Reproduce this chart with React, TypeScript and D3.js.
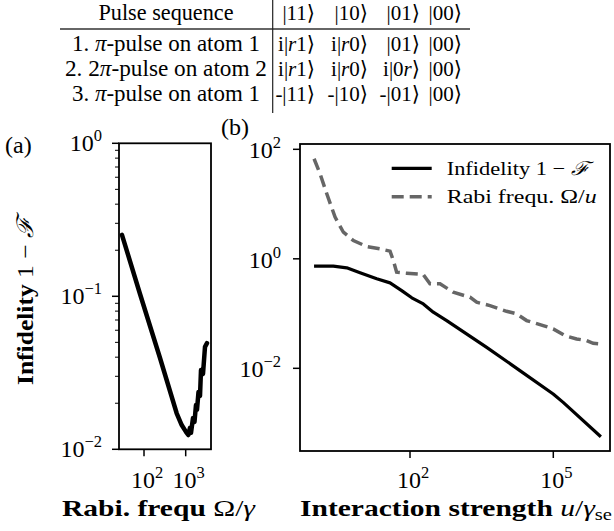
import React from "react";
import * as d3 from "d3";

// ---------- data ----------
const tableHeader = ["Pulse sequence", "|11⟩", "|10⟩", "|01⟩", "|00⟩"];
const rowLabels = ["1. π-pulse on atom 1", "2. 2π-pulse on atom 2", "3. π-pulse on atom 1"];
const rowStates = [
  ["i|r1⟩", "i|r0⟩", "|01⟩", "|00⟩"],
  ["i|r1⟩", "i|r0⟩", "i|0r⟩", "|00⟩"],
  ["-|11⟩", "-|10⟩", "-|01⟩", "|00⟩"],
];

// panel (a): infidelity vs Rabi frequency
const aOmega = [29.6, 80.2, 242, 608, 802, 1016, 1153, 1268, 1340, 1496, 1626, 1766, 1866, 2028, 2203, 2328, 2600, 2904, 3243];
const aInfid = [0.252, 0.1035, 0.0395, 0.0172, 0.0144, 0.013, 0.0124, 0.0138, 0.0128, 0.016, 0.0151, 0.0195, 0.0181, 0.0237, 0.0223, 0.033, 0.0311, 0.0467, 0.0494];
const aXTicks = [100, 1000];
const aYTicks = [1, 0.1, 0.01];

// panel (b): vs interaction strength
const bU = [0.98, 2.48, 4.74, 8.99, 20.1, 38.2, 67.0, 109, 190, 307, 586, 4027, 2.0e4, 9.95e4, 1.61e5, 9.9e5];
const bInfid = [0.733, 0.733, 0.684, 0.555, 0.431, 0.364, 0.263, 0.194, 0.15, 0.106, 0.0745, 0.0242, 0.00908, 0.0034, 0.00239, 0.000564];
const bU2 = [0.98, 1.31, 1.81, 2.7, 4.03, 6.53, 12.4, 23.5, 38.2, 44.8, 52.5, 85.1, 190, 262, 425, 805, 1799, 2483, 4721, 1.05e4, 1.71e4, 2.76e4, 6.15e4, 9.95e4, 1.75e5, 3.07e5, 4.98e5, 6.84e5, 9.44e5];
const bRabi = [67.3, 35.8, 15.4, 5.77, 3.06, 2.16, 1.68, 1.52, 1.38, 0.931, 0.569, 0.546, 0.516, 0.349, 0.349, 0.245, 0.199, 0.161, 0.14, 0.11, 0.0989, 0.0745, 0.0604, 0.0525, 0.0396, 0.0344, 0.0321, 0.0286, 0.0279];
const bXTicks = [100, 1e5];
const bYTicks = [100, 1, 0.01];

const FONT = "'Liberation Serif', 'DejaVu Serif', serif";

function Pow({ x, y, v, anchor }: { x: number; y: number; v: number; anchor: string }) {
  const e = Math.round(Math.log10(v));
  const s = e < 0 ? "\u2212" + Math.abs(e) : String(e);
  return (
    <text x={x} y={y} textAnchor={anchor} fontSize={24} fontFamily={FONT}>
      10<tspan dy={-10} fontSize={16.5}>{s}</tspan>
    </text>
  );
}

function Rich({ s }: { s: string }) {
  const parts: React.ReactNode[] = [];
  let buf = "";
  let k = 0;
  for (const ch of s) {
    if (ch === "π" || ch === "r") {
      if (buf) parts.push(<tspan key={k++}>{buf}</tspan>);
      buf = "";
      parts.push(<tspan key={k++} fontStyle="italic">{ch}</tspan>);
    } else buf += ch;
  }
  if (buf) parts.push(<tspan key={k++}>{buf}</tspan>);
  return <>{parts}</>;
}

export default function App() {
  const ax = d3.scaleLog().domain([Math.pow(10, 1.4), Math.pow(10, 3.607)]).range([119, 211]);
  const ay = d3.scaleLog().domain([1, 0.01]).range([143.3, 449.3]);
  const bx = d3.scaleLog().domain([Math.pow(10, -0.303), Math.pow(10, 6.187)]).range([300, 610]);
  const by = d3.scaleLog().domain([Math.pow(10, 2.097), Math.pow(10, -3.51)]).range([144, 451]);

  const aLine = d3.line<number>().x((_, i) => ax(aOmega[i])).y((d) => ay(d));
  const bLine1 = d3.line<number>().x((_, i) => bx(bU[i])).y((d) => by(d));
  const bLine2 = d3.line<number>().x((_, i) => bx(bU2[i])).y((d) => by(d));

  const aMinor = ay.ticks().filter((t) => Math.abs(Math.log10(t) - Math.round(Math.log10(t))) > 1e-6);

  const [ax0, ax1] = ax.range();
  const aTop = ay(1), aBot = ay(0.01);
  const [bx0, bx1] = bx.range();
  const [bTop, bBot] = by.range();

  const colX = [166, 315, 368, 420, 462];
  const rowY = [51, 76, 101];

  return (
    <svg width={614} height={531} style={{ position: "absolute", left: 0, top: 0, background: "#fff" }} fontFamily={FONT}>
      <rect x={0} y={0} width={614} height={531} fill="#fff" />
      {/* table */}
      <line x1={60} x2={470} y1={29} y2={29} stroke="#666" strokeWidth={1.8} />
      <line x1={272.7} x2={272.7} y1={0} y2={113} stroke="#222" strokeWidth={1.2} />
      {tableHeader.map((h, i) => (
        <text key={"h" + i} x={colX[i]} y={20} textAnchor={i === 0 ? "middle" : "end"} fontSize={i === 0 ? 23 : 21}
          textLength={i === 0 ? 135 : undefined} lengthAdjust="spacingAndGlyphs">
          <Rich s={h} />
        </text>
      ))}
      {rowLabels.map((r, j) => (
        <text key={"r" + j} x={colX[0]} y={rowY[j]} textAnchor="middle" fontSize={23}
          textLength={j === 1 ? 202 : 188} lengthAdjust="spacingAndGlyphs">
          <Rich s={r} />
        </text>
      ))}
      {rowStates.map((row, j) =>
        row.map((c, i) => (
          <text key={"c" + j + i} x={colX[i + 1]} y={rowY[j]} textAnchor="end" fontSize={21}>
            <Rich s={c} />
          </text>
        ))
      )}

      {/* panel labels */}
      <text x={5} y={153} fontSize={24}>(a)</text>
      <text x={221} y={135} fontSize={24}>(b)</text>

      {/* panel a */}
      <path d={aLine(aInfid) || ""} fill="none" stroke="#000" strokeWidth={4.5} strokeLinejoin="round" strokeLinecap="round" />
      <rect x={ax0} y={aTop} width={ax1 - ax0} height={aBot - aTop} fill="none" stroke="#000" strokeWidth={1.8} />
      {aYTicks.map((t) => (
        <g key={"ay" + t}>
          <line x1={ax0 - 7} x2={ax0} y1={ay(t)} y2={ay(t)} stroke="#000" strokeWidth={1.5} />
          <Pow x={ax0 - 17} y={ay(t) + 8} v={t} anchor="end" />
        </g>
      ))}
      {aMinor.map((t) => (
        <line key={"am" + t} x1={ax0 - 4} x2={ax0} y1={ay(t)} y2={ay(t)} stroke="#000" strokeWidth={1} />
      ))}
      {aXTicks.map((t) => (
        <g key={"ax" + t}>
          <line x1={ax(t)} x2={ax(t)} y1={aBot} y2={aBot + 7} stroke="#000" strokeWidth={1.5} />
          <Pow x={ax(t) + 3} y={488} v={t} anchor="middle" />
        </g>
      ))}
      <text x={62} y={516} fontSize={23} textLength={193} lengthAdjust="spacingAndGlyphs">
        <tspan fontWeight="bold">Rabi. frequ</tspan>
        <tspan> Ω/</tspan>
        <tspan fontStyle="italic">γ</tspan>
      </text>
      <text transform={`translate(33,385) rotate(-90)`} textAnchor="start" fontSize={23} textLength={168} lengthAdjust="spacingAndGlyphs">
        <tspan fontWeight="bold">Infidelity</tspan>
        <tspan> 1 − </tspan>
        <tspan fontStyle="italic">ℱ</tspan>
      </text>

      {/* panel b */}
      <path d={bLine2(bRabi) || ""} fill="none" stroke="#666" strokeWidth={3.5} strokeDasharray="12 6" />
      <path d={bLine1(bInfid) || ""} fill="none" stroke="#000" strokeWidth={3.2} strokeLinejoin="round" />
      <rect x={bx0} y={bTop} width={bx1 - bx0} height={bBot - bTop} fill="none" stroke="#000" strokeWidth={1.8} />
      {bYTicks.map((t) => (
        <g key={"by" + t}>
          <line x1={bx0 - 7} x2={bx0} y1={by(t)} y2={by(t)} stroke="#000" strokeWidth={1.5} />
          <Pow x={bx0 - 19} y={by(t) + 9} v={t} anchor="end" />
        </g>
      ))}
      {bXTicks.map((t) => (
        <g key={"bx" + t}>
          <line x1={bx(t)} x2={bx(t)} y1={bBot} y2={bBot + 7} stroke="#000" strokeWidth={1.5} />
          <Pow x={bx(t) + 3} y={488} v={t} anchor="middle" />
        </g>
      ))}
      <text x={300} y={516} fontSize={23} textLength={312} lengthAdjust="spacingAndGlyphs">
        <tspan fontWeight="bold">Interaction strength</tspan>
        <tspan fontStyle="italic"> u</tspan>
        <tspan>/</tspan>
        <tspan fontStyle="italic">γ</tspan>
        <tspan fontSize={16} dy={4}>se</tspan>
      </text>

      {/* legend */}
      <line x1={391.7} x2={431.7} y1={168.3} y2={168.3} stroke="#000" strokeWidth={3.2} />
      <line x1={391.7} x2={431.7} y1={196.7} y2={196.7} stroke="#666" strokeWidth={3.5} strokeDasharray="12 6" />
      <text x={446.7} y={175} fontSize={19} textLength={143} lengthAdjust="spacingAndGlyphs">
        Infidelity 1 − <tspan fontStyle="italic">ℱ</tspan>
      </text>
      <text x={446.7} y={203} fontSize={19} textLength={150} lengthAdjust="spacingAndGlyphs">
        Rabi frequ. Ω/<tspan fontStyle="italic">u</tspan>
      </text>
    </svg>
  );
}
